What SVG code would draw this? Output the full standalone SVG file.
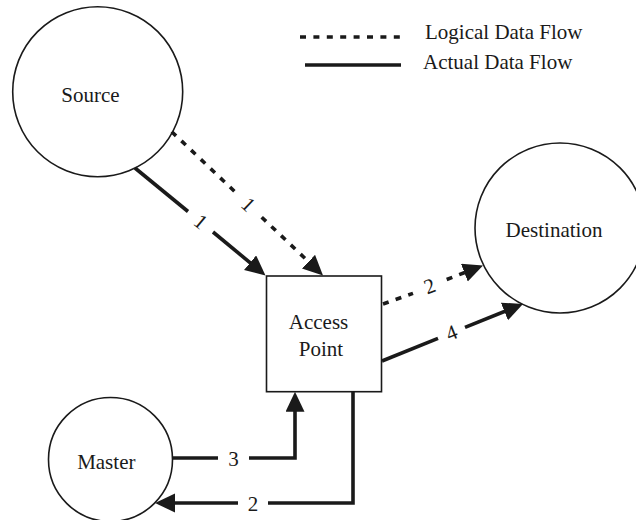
<svg xmlns="http://www.w3.org/2000/svg" width="636" height="520" viewBox="0 0 636 520">
<style>
text{font-family:"Liberation Serif","Times New Roman",serif;font-size:21px;fill:#1a1a1a}
.node{fill:#fff;stroke:#1a1a1a;stroke-width:1.6}
.flow{fill:none;stroke:#1a1a1a;stroke-width:3.6}
.dash{stroke-dasharray:6 7.4}
.lbl{text-anchor:middle}
</style>
<defs>
<marker id="ah" markerUnits="userSpaceOnUse" markerWidth="22" markerHeight="20" refX="10" refY="9.5" orient="auto">
<path d="M0,0 L20,9.5 L0,19 z" fill="#1a1a1a"/>
</marker>
</defs>
<rect width="636" height="520" fill="#fff"/>
<g id="legend">
<line class="flow dash" x1="300" y1="37" x2="400" y2="37"/>
<text x="425" y="39">Logical Data Flow</text>
<line class="flow" x1="305" y1="65" x2="401" y2="65"/>
<text x="423" y="69">Actual Data Flow</text>
</g>
<g id="source">
<circle class="node" cx="97.7" cy="91.7" r="85"/>
<text class="lbl" x="90.5" y="101.7">Source</text>
</g>
<g id="destination">
<circle class="node" cx="560" cy="228" r="85"/>
<text class="lbl" x="554" y="237">Destination</text>
</g>
<g id="master">
<circle class="node" cx="110.5" cy="459.5" r="62"/>
<text class="lbl" x="106.3" y="469">Master</text>
</g>
<g id="access-point">
<rect class="node" x="266.5" y="276" width="115" height="115.7"/>
<text class="lbl" x="318.5" y="329">Access</text>
<text class="lbl" x="321" y="356">Point</text>
</g>
<g id="connectors">
<path class="flow" d="M135,168 L188,211.5"/>
<path class="flow" d="M213,232 L257.8,269.1" marker-end="url(#ah)"/>
<text class="lbl" transform="translate(200.8,221.8) rotate(39.5)" y="7">1</text>
<path class="flow dash" d="M171.7,131.7 L235,191.8"/>
<path class="flow dash" d="M261.7,217.2 L315.75,268.6" marker-end="url(#ah)"/>
<text class="lbl" transform="translate(248.3,204.5) rotate(43.5)" y="7">1</text>
<path class="flow dash" d="M383,304 L413,293.4"/>
<path class="flow dash" d="M446.7,279.5 L473.7,269.1" marker-end="url(#ah)"/>
<text class="lbl" transform="translate(429.6,286) rotate(-21)" y="7">2</text>
<path class="flow" d="M382,361 L438,338.4"/>
<path class="flow" d="M465,327.4 L513.7,307.75" marker-end="url(#ah)"/>
<text class="lbl" transform="translate(451.5,332.9) rotate(-22)" y="7">4</text>
<path class="flow" d="M172.7,458 H218"/>
<path class="flow" d="M249,458 H295 V401.7" marker-end="url(#ah)"/>
<text class="lbl" x="233.5" y="466">3</text>
<path class="flow" d="M353,391.7 V503 H268"/>
<path class="flow" d="M238,503 H165" marker-end="url(#ah)"/>
<text class="lbl" x="253" y="511">2</text>
</g>
</svg>
